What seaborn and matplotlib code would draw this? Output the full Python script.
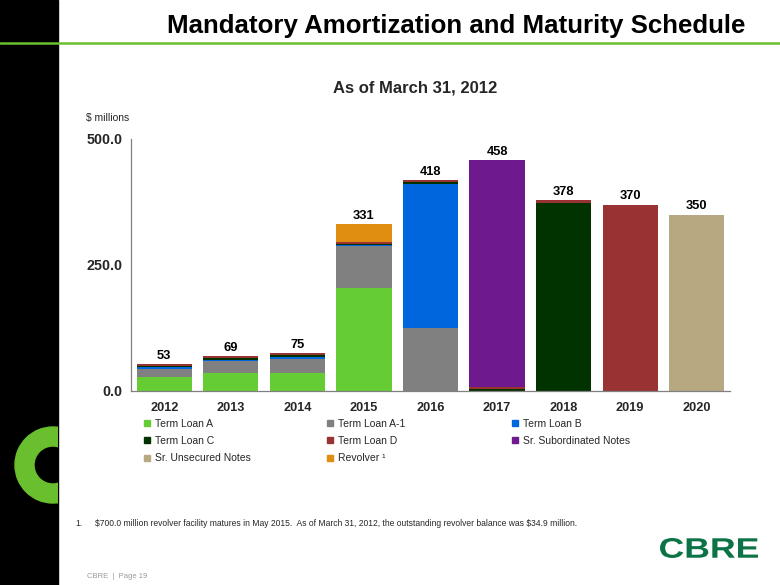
import numpy as np
import pandas as pd
import matplotlib
matplotlib.use("Agg")
import matplotlib.pyplot as plt
import seaborn as sns
from matplotlib.patches import Rectangle, Wedge, PathPatch
from matplotlib.lines import Line2D
from matplotlib.textpath import TextPath
from matplotlib.font_manager import FontProperties
from matplotlib.transforms import Affine2D

# ---------------- data ----------------
years = ["2012", "2013", "2014", "2015", "2016", "2017", "2018", "2019", "2020"]
term_loan_a = [27, 35, 35, 203.5, 0, 0, 0, 0, 0]
term_loan_a1 = [17.5, 24, 28.5, 83.5, 125, 0, 0, 0, 0]
term_loan_b = [3, 3.5, 4.5, 2, 285, 0, 0, 0, 0]
term_loan_c = [3, 3.5, 3.5, 3.5, 4, 4, 374, 0, 0]
term_loan_d = [2.5, 3, 3.5, 3.5, 4, 4, 4, 370, 0]
sr_sub_notes = [0, 0, 0, 0, 0, 450, 0, 0, 0]
sr_unsec_notes = [0, 0, 0, 0, 0, 0, 0, 0, 350]
revolver = [0, 0, 0, 34.9, 0, 0, 0, 0, 0]

series_names = ["Term Loan A", "Term Loan A-1", "Term Loan B", "Term Loan C",
                "Term Loan D", "Sr. Subordinated Notes", "Sr. Unsecured Notes",
                "Revolver \u00b9"]
series_values = [term_loan_a, term_loan_a1, term_loan_b, term_loan_c,
                 term_loan_d, sr_sub_notes, sr_unsec_notes, revolver]
series_colors = ["#66CC33", "#808080", "#0066DD", "#003300",
                 "#993333", "#6E1A8E", "#B8A882", "#E08E12"]

# ---------------- style ----------------
sns.set_style("white")
plt.rcParams["font.family"] = ["Liberation Sans", "DejaVu Sans"]

W, H = 780, 585
fig = plt.figure(figsize=(W / 100, H / 100), dpi=100)

# background decoration axes in pixel coordinates
bg = fig.add_axes([0, 0, 1, 1], zorder=0)
bg.set_xlim(0, W)
bg.set_ylim(H, 0)
bg.axis("off")
strip = Rectangle((0, 0), 58, H, color="black", zorder=1)
bg.add_patch(strip)
ring = Wedge((53, 465), 38, 0, 360, width=19, color="#6ABF2E", zorder=2)
bg.add_patch(ring)
ring.set_clip_path(strip)
bg.plot([0, W], [43, 43], color="#6CBF2E", lw=1.8, zorder=3)

# CBRE logo
prop = FontProperties(family="Liberation Sans", weight="bold")
tp = TextPath((0, 0), "CBRE", size=1, prop=prop)
ext = tp.get_extents()
sx = (758 - 660) / ext.width
sy = (558 - 538) / ext.height
tr = Affine2D().translate(-ext.x0, -ext.y0).scale(sx, -sy).translate(660, 558)
bg.add_patch(PathPatch(tr.transform_path(tp), color="#0B7345", lw=0, zorder=3))

# ---------------- main chart ----------------
ax = fig.add_axes([131 / W, 1 - 391 / H, (730 - 131) / W, (391 - 139) / H], zorder=2)
ax.set_facecolor("none")

cum = np.zeros(len(years))
cums = []
for vals in series_values:
    cum = cum + np.array(vals, dtype=float)
    cums.append(cum.copy())
for name, c, col in reversed(list(zip(series_names, cums, series_colors))):
    sns.barplot(x=years, y=c, color=col, saturation=1, width=0.83, ax=ax,
                order=years, linewidth=0, zorder=2)

totals = cums[-1]
for i, t in enumerate(totals):
    ax.text(i, t + 5, f"{t:.0f}", ha="center", va="bottom",
            fontsize=9.3, fontweight="bold", color="black")

ax.set_xlim(-0.5, len(years) - 0.5)
ax.set_ylim(0, 500)
ax.set_yticks([0, 250, 500])
ax.set_yticklabels(["0.0", "250.0", "500.0"])
ax.set_xticks(range(len(years)))
ax.set_xticklabels(years)
ax.set_xticks(np.arange(-0.5, len(years)), minor=True)
ax.tick_params(axis="x", which="major", length=0, pad=8)
ax.tick_params(axis="x", which="minor", length=4, width=0.8, color="#808080", direction="out")
ax.tick_params(axis="y", length=4, width=0.8, color="#808080", direction="out", pad=2)
for lab in ax.get_xticklabels():
    lab.set_fontweight("bold")
    lab.set_fontsize(9.2)
for lab in ax.get_yticklabels():
    lab.set_fontweight("bold")
    lab.set_fontsize(10.3)
ax.set_xlabel("")
ax.set_ylabel("")
for s in ["top", "right"]:
    ax.spines[s].set_visible(False)
for s in ["left", "bottom"]:
    ax.spines[s].set_color("#808080")
    ax.spines[s].set_linewidth(0.9)
ax.spines["bottom"].set_zorder(5)

# ---------------- legend (3 columns) ----------------
handles = [Line2D([], [], marker="s", linestyle="none", markersize=4.6,
                  markerfacecolor=c, markeredgecolor=c) for c in series_colors]
columns = [([0, 3, 6], 144), ([1, 4, 7], 327), ([2, 5], 512)]
for idx, x0 in columns:
    fig.legend([handles[i] for i in idx], [series_names[i] for i in idx],
               loc="upper left", bbox_to_anchor=(x0 / W, 1 - 419 / H),
               frameon=False, fontsize=7.5, handlelength=0.6,
               handletextpad=0.45, labelspacing=0.68, borderpad=0,
               borderaxespad=0)

# ---------------- texts ----------------
fig.text(745 / W, 1 - 26 / H, "Mandatory Amortization and Maturity Schedule",
         ha="right", va="center", fontsize=18.6, fontweight="bold", color="black")
fig.text(415 / W, 1 - 88 / H, "As of March 31, 2012", ha="center", va="center",
         fontsize=12, fontweight="bold")
fig.text(86 / W, 1 - 118 / H, "\\$ millions", ha="left", va="center", fontsize=7.5)
fig.text(75 / W, 1 - 523 / H, "1.", ha="left", va="center", fontsize=6.15)
fig.text(95 / W, 1 - 523 / H,
         "\\$700.0 million revolver facility matures in May 2015.  As of March 31, 2012, "
         "the outstanding revolver balance was \\$34.9 million.",
         ha="left", va="center", fontsize=6.15)
fig.text(87 / W, 1 - 576 / H, "CBRE  |  Page 19", ha="left", va="center",
         fontsize=5.5, color="#9A9A9A")

fig.savefig("out.png", dpi=100)
